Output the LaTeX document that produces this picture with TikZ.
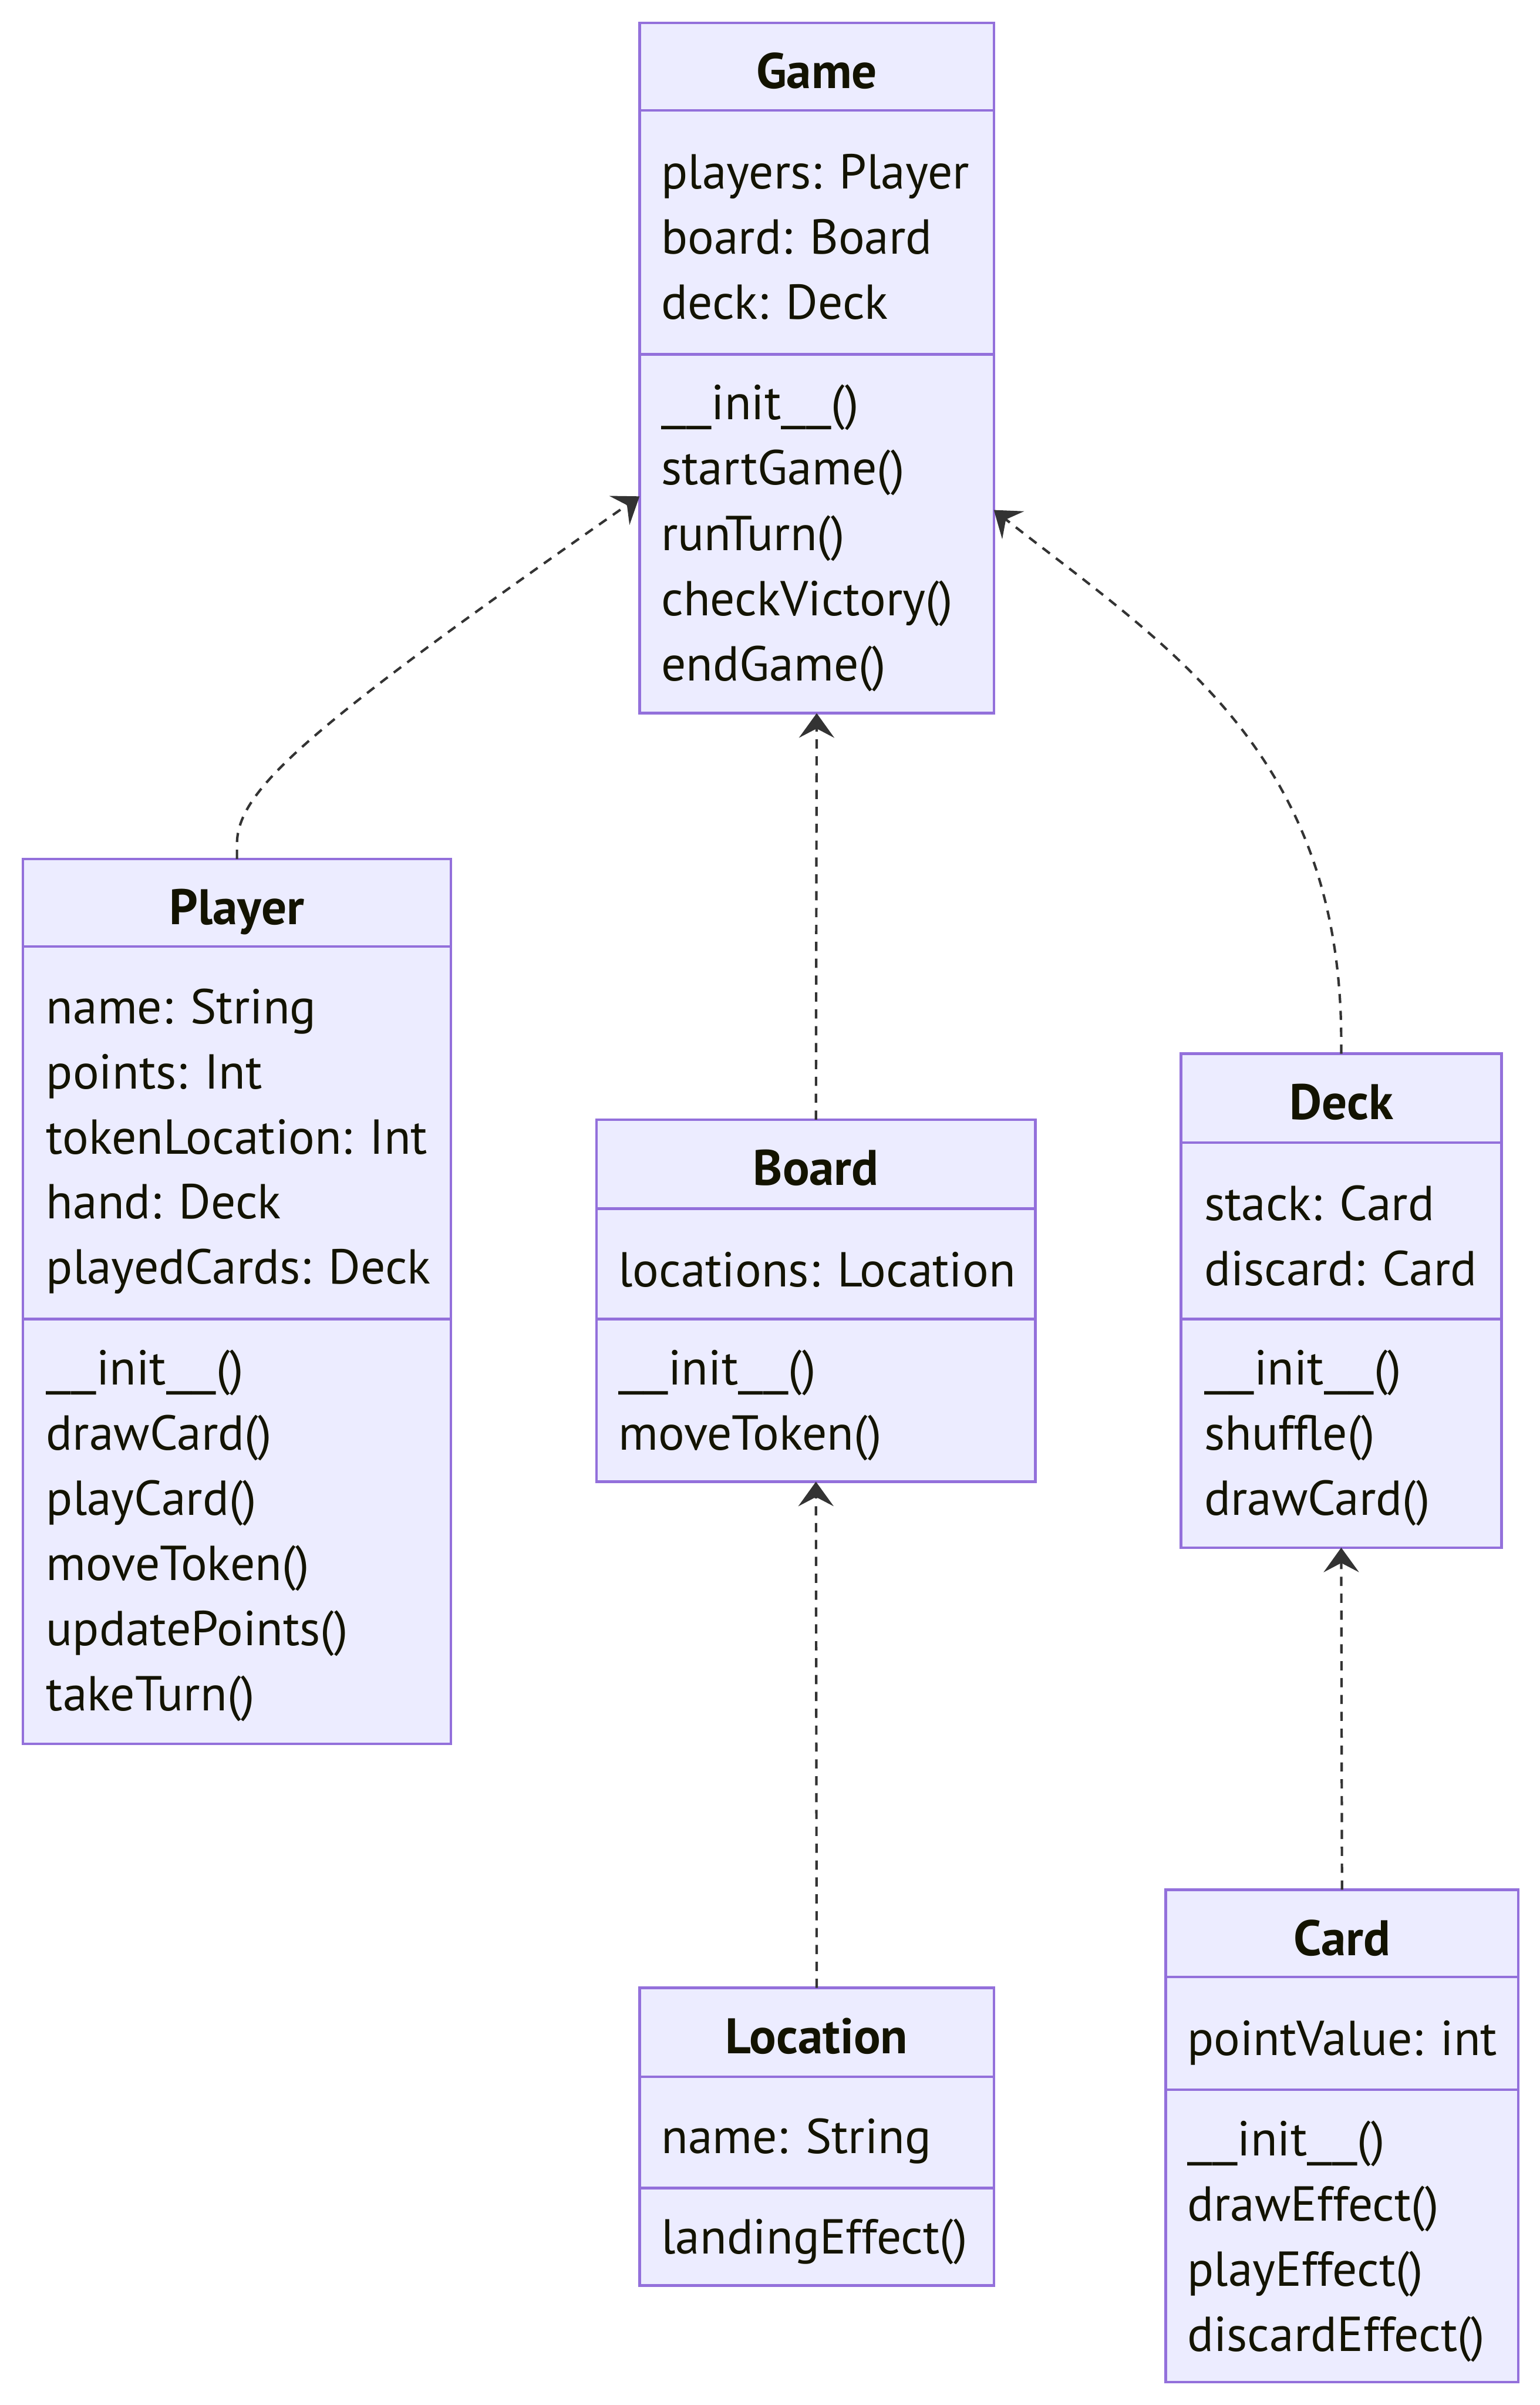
\documentclass[tikz,border=0pt]{standalone}
\usepackage{fontspec}
\usepackage{graphicx}
\setmainfont{PT Sans}
\usetikzlibrary{arrows.meta}
\definecolor{clsfill}{HTML}{ECECFF}
\definecolor{clsdraw}{HTML}{9370DB}
\definecolor{clstext}{HTML}{131300}
\definecolor{linkcol}{HTML}{333333}
\newcommand\usc{\scalebox{1.25}[1]{\_}}
\newcommand\initname{\usc\usc init\usc\usc()}
\tikzset{
  cls/.style={draw=clsdraw, fill=clsfill, line width=1.7pt, rectangle, inner sep=0pt, outer sep=0pt},
  divider/.style={draw=clsdraw, line width=1.7pt},
  txt/.style={anchor=base west, inner sep=0pt, text=clstext, font=\fontsize{32pt}{42.5pt}\selectfont},
  hdr/.style={anchor=base, inner sep=0pt, text=clstext, font=\fontsize{32.6pt}{42.5pt}\selectfont\bfseries},
  dep/.style={draw=linkcol, line width=1.6pt, dash pattern=on 6pt off 5pt,
    -{Stealth[length=16pt, width=23pt, inset=6pt]}}
}
\begin{document}
\begin{tikzpicture}[x=1pt, y=-1pt]
\useasboundingbox (0,0) rectangle (1004,1568);

% ---------- Game ----------
\node[cls, minimum width=231pt, minimum height=450pt] (game) at (532.5,240) {};
\draw[divider] (game.west |- 0,72) -- (game.east |- 0,72);
\draw[divider] (game.west |- 0,231) -- (game.east |- 0,231);
\node[hdr] (gameH) at (532.5,57.5) {Game};
\foreach \t [count=\i] in {players: Player, board: Board, deck: Deck}
  \node[txt] (gameA\i) at (431,{123+42.6*(\i-1)}) {\t};
\foreach \t [count=\i] in {\initname, startGame(), runTurn(), checkVictory(), endGame()}
  \node[txt] (gameM\i) at (431,{273.7+42.5*(\i-1)}) {\t};

% ---------- Player ----------
\node[cls, minimum width=279pt, minimum height=577pt] (player) at (154.5,848.5) {};
\draw[divider] (player.west |- 0,617) -- (player.east |- 0,617);
\draw[divider] (player.west |- 0,860) -- (player.east |- 0,860);
\node[hdr] (playerH) at (154.5,602.7) {Player};
\foreach \t [count=\i] in {name: String, points: Int, tokenLocation: Int, hand: Deck, playedCards: Deck}
  \node[txt] (playerA\i) at (30,{667.5+42.4*(\i-1)}) {\t};
\foreach \t [count=\i] in {\initname, drawCard(), playCard(), moveToken(), updatePoints(), takeTurn()}
  \node[txt] (playerM\i) at (30,{903+42.5*(\i-1)}) {\t};

% ---------- Board ----------
\node[cls, minimum width=286pt, minimum height=236pt] (board) at (532,848) {};
\draw[divider] (board.west |- 0,788) -- (board.east |- 0,788);
\draw[divider] (board.west |- 0,860) -- (board.east |- 0,860);
\node[hdr] (boardH) at (532,772.7) {Board};
\node[txt] (boardA1) at (403,839) {locations: Location};
\foreach \t [count=\i] in {\initname, moveToken()}
  \node[txt] (boardM\i) at (403,{903+42.5*(\i-1)}) {\t};

% ---------- Deck ----------
\node[cls, minimum width=209pt, minimum height=322pt] (deck) at (874.5,848) {};
\draw[divider] (deck.west |- 0,745) -- (deck.east |- 0,745);
\draw[divider] (deck.west |- 0,860) -- (deck.east |- 0,860);
\node[hdr] (deckH) at (874.5,730) {Deck};
\foreach \t [count=\i] in {stack: Card, discard: Card}
  \node[txt] (deckA\i) at (785,{795.5+42.5*(\i-1)}) {\t};
\foreach \t [count=\i] in {\initname, shuffle(), drawCard()}
  \node[txt] (deckM\i) at (785,{903+42.5*(\i-1)}) {\t};

% ---------- Location ----------
\node[cls, minimum width=231pt, minimum height=194pt] (location) at (532.5,1393) {};
\draw[divider] (location.west |- 0,1354) -- (location.east |- 0,1354);
\draw[divider] (location.west |- 0,1426.5) -- (location.east |- 0,1426.5);
\node[hdr] (locationH) at (532.5,1339) {Location};
\node[txt] (locationA1) at (431,1404) {name: String};
\node[txt] (locationM1) at (431,1469.5) {landingEffect()};

% ---------- Card ----------
\node[cls, minimum width=230pt, minimum height=321pt] (card) at (875,1392.5) {};
\draw[divider] (card.west |- 0,1289) -- (card.east |- 0,1289);
\draw[divider] (card.west |- 0,1362.5) -- (card.east |- 0,1362.5);
\node[hdr] (cardH) at (875,1275) {Card};
\node[txt] (cardA1) at (774,1340) {pointValue: int};
\foreach \t [count=\i] in {\initname, drawEffect(), playEffect(), discardEffect()}
  \node[txt] (cardM\i) at (774,{1405.5+42.5*(\i-1)}) {\t};

% ---------- connectors ----------
\path (game.north west) ++(0,308.6) coordinate (gameL);
\path (game.north east) ++(0,317.5) coordinate (gameR);
\draw[dep] (player.north) -- ++(0,-10) .. controls (155,515) and (200,475) .. (gameL);
\draw[dep] (deck.north) -- ++(0,-7) .. controls (875,490) and (760,420.6) .. (gameR);
\draw[dep] (board.north) -- (game.south);
\draw[dep] (location.north) -- (board.south);
\draw[dep] (card.north) -- (deck.south);
\end{tikzpicture}
\end{document}
